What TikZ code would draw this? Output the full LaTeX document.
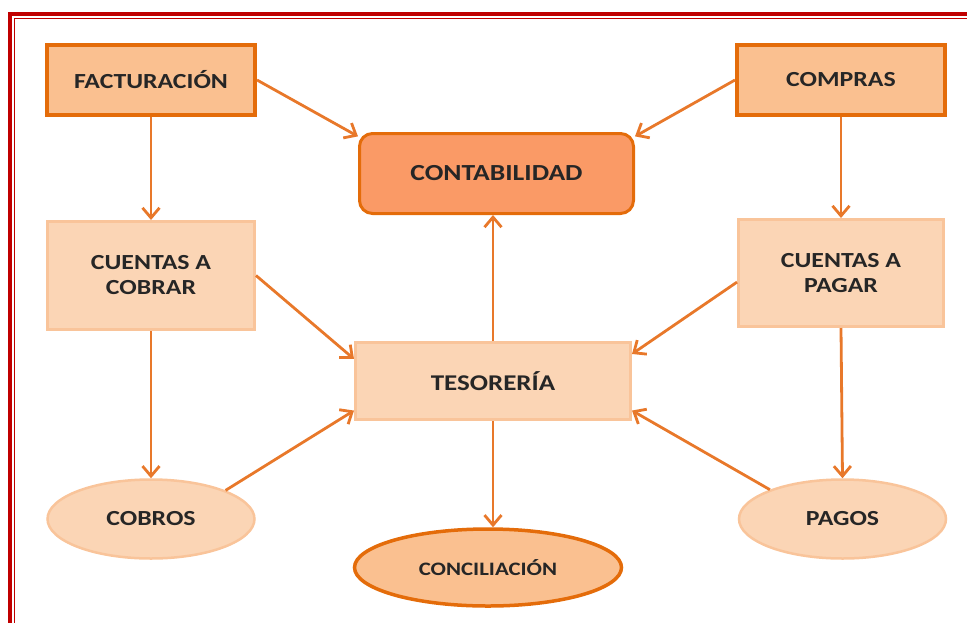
\documentclass[tikz,border=0pt]{standalone}
\usepackage{fontspec}
\setmainfont{Carlito}[FakeStretch=1.2]
\usetikzlibrary{arrows.meta,shapes.geometric}
\definecolor{dkor}{HTML}{E46C0A}
\definecolor{arr}{HTML}{E8782A}
\definecolor{midfill}{HTML}{FAC090}
\definecolor{contafill}{HTML}{FA9A66}
\definecolor{ltfill}{HTML}{FBD5B5}
\definecolor{ltborder}{HTML}{F9C49A}
\definecolor{txt}{HTML}{262626}
\definecolor{frame}{HTML}{C00000}
\tikzset{
  lbl/.style={text=txt,font=\bfseries\fontsize{21.5}{25}\selectfont,align=center,inner sep=0pt},
  topbox/.style={lbl,rectangle,draw=dkor,line width=4pt,fill=midfill,minimum width=208pt,minimum height=70pt},
  contabox/.style={lbl,rectangle,rounded corners=13pt,draw=dkor,line width=3pt,fill=contafill,minimum width=274pt,minimum height=80pt,font=\bfseries\fontsize{23}{26}\selectfont},
  softbox/.style={lbl,rectangle,draw=ltborder,line width=3pt,fill=ltfill},
  softell/.style={lbl,ellipse,draw=ltborder,line width=2.5pt,fill=ltfill,minimum width=207pt,minimum height=79pt},
  concell/.style={lbl,ellipse,draw=dkor,line width=3.5pt,fill=midfill,minimum width=267pt,minimum height=77pt,font=\bfseries\fontsize{19}{22}\selectfont},
  conn/.style={draw=arr,line width=2.8pt,-{Straight Barb[length=10pt,width=17pt,line width=2.8pt]}}
}
\begin{document}
\begin{tikzpicture}[x=1pt,y=-1pt]
\useasboundingbox (0,0) rectangle (967,622);
% frame
\draw[frame,line width=4pt] (10,640) -- (10,14) -- (990,14);
\draw[frame,line width=1.4pt] (14.5,640) -- (14.5,18.5) -- (990,18.5);
% nodes
\node[topbox] (fact) at (151,80) {FACTURACIÓN};
\node[topbox] (comp) at (841,80) {COMPRAS};
\node[contabox] (conta) at (496.5,173.5) {CONTABILIDAD};
\node[softbox,minimum width=207pt,minimum height=108pt] (cxc) at (151,275.5) {CUENTAS A\\COBRAR};
\node[softbox,minimum width=205pt,minimum height=107pt] (cxp) at (841,273) {CUENTAS A\\PAGAR};
\node[softbox,minimum width=275pt,minimum height=77pt,font=\bfseries\fontsize{22.5}{26}\selectfont] (teso) at (493,381) {TESORERÍA};
\node[softell] (cobros) at (151,519) {COBROS};
\node[softell] (pagos) at (842.5,519) {PAGOS};
\node[concell] (conc) at (488,567.5) {CONCILIACIÓN};
% connectors
\draw[conn] (fact.east) -- (conta.165);
\draw[conn] (comp.west) -- (conta.15);
\draw[conn] (fact.south) -- (cxc.north);
\draw[conn] (comp.south) -- (cxp.north);
\draw[conn] (cxc.east) -- (teso.171);
\draw[conn] (cxp.185) -- (teso.11);
\draw[conn] (cxc.south) -- (cobros.north);
\draw[conn] (cxp.south) -- (pagos.north);
\draw[conn] (cobros.21) -- (teso.192);
\draw[conn] (pagos.158) -- (teso.348);
\draw[conn] (teso.north) -- (teso.north |- conta.south);
\draw[conn] (teso.south) -- (teso.south |- conc.north);
\end{tikzpicture}
\end{document}
